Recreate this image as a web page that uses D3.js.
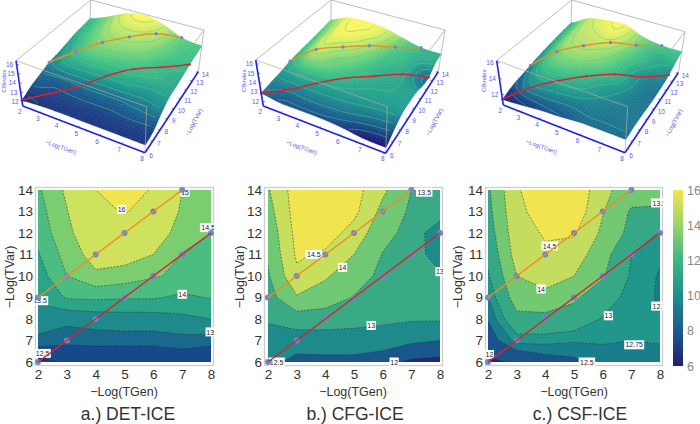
<!DOCTYPE html>
<html><head><meta charset="utf-8">
<script src="https://cdn.jsdelivr.net/npm/d3@7"></script>
<style>html,body{margin:0;padding:0;background:#fff}svg{display:block}text{font-family:"Liberation Sans",Arial,sans-serif}</style>
</head><body><svg id="c" width="700" height="424"></svg>
<script>
const tGen=[2,3,4,5,6,7,8];
const tVar=[6,7,8,9,10,11,12,13,14];
// rows: TVar 6..14, columns: TGen 2..8
const zDet=[
[12.40,12.55,12.60,12.60,12.60,12.60,12.60],
[12.90,12.80,12.80,12.80,12.80,12.85,12.80],
[13.25,13.10,13.20,13.25,13.25,13.38,13.50],
[13.60,14.05,14.09,14.05,14.05,13.90,14.03],
[13.75,14.50,14.90,14.75,14.55,14.40,14.15],
[13.95,14.70,15.23,15.25,15.00,14.48,14.30],
[14.20,14.85,15.50,15.60,15.35,14.75,14.50],
[14.30,14.97,15.80,16.05,15.70,14.90,14.60],
[14.42,15.10,16.00,16.40,15.92,15.00,14.70]];
const zCfg=[
[12.65,12.35,12.35,12.35,12.22,11.90,11.85],
[12.85,12.75,12.80,12.80,12.75,12.60,12.50],
[13.04,13.25,13.20,13.15,13.10,13.05,13.05],
[13.30,13.95,13.80,13.47,13.25,13.20,13.15],
[13.45,14.40,14.05,13.75,13.37,13.25,13.10],
[13.55,14.57,14.42,14.00,13.48,13.30,12.70],
[13.65,14.65,14.75,14.30,13.65,13.35,12.60],
[13.80,14.72,14.85,14.63,13.85,13.42,13.30],
[13.95,14.75,14.90,14.70,14.10,13.50,13.40]];
const zCsf=[
[11.90,12.07,12.30,12.42,12.62,12.65,12.65],
[12.30,12.85,12.85,12.78,12.78,12.75,12.77],
[12.52,13.35,13.35,13.27,12.97,12.80,12.77],
[12.73,13.75,13.85,13.58,13.20,12.87,12.72],
[12.95,14.00,14.22,14.00,13.55,12.95,12.72],
[13.10,14.20,14.42,14.25,13.70,13.00,12.80],
[13.25,14.30,14.55,14.56,13.90,13.35,12.98],
[13.35,14.38,14.72,14.85,14.03,13.44,13.43],
[13.42,14.45,14.82,14.95,14.13,13.75,13.70]];
const levelsDet=[12.5,12.75,13,13.5,14,14.5,15,16];
const levelsCfg=[12,12.5,13,13.5,14,14.5];
const levelsCsf=[12,12.5,12.75,13,13.5,14,14.5];
const bandsDet=["#133a85","#17478c","#19698c","#1f8a8c","#2ca488","#4cbd80","#7ccd70","#cfe25d","#f0e44f"];
const bandsCfg=["#1c2a7e","#19568c","#1f8a8c","#3aa985","#6fc874","#c8df5e","#f0e44f"];
const bandsCsf=["#1c2a7e","#19528c","#1a7d8c","#21968a","#37a886","#72c972","#c5dd5e","#f0e44f"];
const labelsDet=[["12.5",2.16,6.4],["13.5",2.07,8.85],["16",4.9,13.1],["15",7.1,13.9],["14.5",7.9,12.25],["14",7,9.15],["13",7.97,7.4]];
const labelsCfg=[["12.5",2.3,6],["12",6.4,6],["13",5.6,7.7],["14",4.6,10.4],["14.5",3.6,11],["13.5",7.45,13.9],["13",8,10.2]];
const labelsCsf=[["12",2.05,6.35],["12.5",5.45,6],["12.75",7.1,6.8],["12.7",7.98,8.6],["13",6.2,8.15],["14",3.85,9.4],["14.5",4.15,11.4],["13.5",7.98,13.4]];
const redGen=[2,3,4,5,6,7,8];
const redVar=[6,7,8,9,10,11,12];
const orangeGen=[2,3,4,5,6,7];
const orangeVar=[9,10,11,12,13,14];
const zTicksDet=[12,13,14,15,16];
const zTicksCfg=[12,13,14,15,16];
const zTicksCsf=[12,14,16];
const legendTicks=[6,8,10,12,14,16];
const captions=["a.) DET-ICE","b.) CFG-ICE","c.) CSF-ICE"];

const panels=[
 {z:zDet,lv:levelsDet,bands:bandsDet,labels:labelsDet,cap:captions[0],zt:zTicksDet,ztw:[.1,.92],
  plot:[38,211],frame:[35,214],ylx:10,capx:128,xlx:124,
  base:[[22.7,106],[145,152.7],[198.3,71.7],[89.3,41.7]],top:[[16,60.7],[146.7,106.7],[204,30],[90.7,0]],
  zDom:[11.8,16.5],cDom:[12.3,16.3]},
 {z:zCfg,lv:levelsCfg,bands:bandsCfg,labels:labelsCfg,cap:captions[1],zt:zTicksCfg,ztw:[.1,.92],
  plot:[268,440],frame:[264,443],ylx:240,capx:355,xlx:353,
  base:[[263.3,106],[385.7,153.3],[438.3,71.7],[331,41.7]],top:[[255.7,60],[387.3,106.7],[445,30],[331,0]],
  zDom:[11.2,16.4],cDom:[11.9,14.85]},
 {z:zCsf,lv:levelsCsf,bands:bandsCsf,labels:labelsCsf,cap:captions[2],zt:zTicksCsf,ztw:[.24,.96],
  plot:[488,660],frame:[485,663],ylx:458,capx:580,xlx:574,
  base:[[503.3,105],[625,152.7],[678.3,72.7],[570.7,41.7]],top:[[496.7,60.7],[627.7,106.7],[685,31.7],[571.7,0]],
  zDom:[11.3,16],cDom:[11.9,14.95]}
];

const stops=[0,.2,.4,.6,.8,1];
const cmap=d3.scaleLinear().domain(stops).range(["#1e1f78","#1b5a8c","#1f8e8c","#3fb583","#9bd36a","#f2e64e"]);
const cmap3=d3.scaleLinear().domain(stops).range(["#1b1b78","#1a5e90","#1f9a90","#45c585","#a8e070","#fbf560"]);
const svg=d3.select("#c");
const defs=svg.append("defs");
const fy=d3.scaleLinear().domain([6,14]).range([362,190]);

function homog(q){
 const [[x0,y0],[x1,y1],[x2,y2],[x3,y3]]=q;
 const sx=x0-x1+x2-x3,sy=y0-y1+y2-y3,dx1=x1-x2,dx2=x3-x2,dy1=y1-y2,dy2=y3-y2,den=dx1*dy2-dx2*dy1;
 const g=(sx*dy2-dx2*sy)/den,h=(dx1*sy-sx*dy1)/den;
 const a=x1-x0+g*x1,b=x3-x0+h*x3,d=y1-y0+g*y1,e=y3-y0+h*y3;
 return (u,v)=>{const w=g*u+h*v+1;return [(a*u+b*v+x0)/w,(d*u+e*v+y0)/w];};
}
function cr(a,b,c,d,t){return .5*((2*b)+(c-a)*t+(2*a-5*b+4*c-d)*t*t+(3*b-a-3*c+d)*t*t*t);}
function sample(g,i,j){return g[Math.max(0,Math.min(8,j))][Math.max(0,Math.min(6,i))];}
function surf(g,x,y){
 const fx=Math.min(x-2,5.9999),fyy=Math.min(y-6,7.9999),i=Math.floor(fx),j=Math.floor(fyy),tx=fx-i,ty=fyy-j;
 const col=k=>cr(sample(g,i-1,k),sample(g,i,k),sample(g,i+1,k),sample(g,i+2,k),tx);
 return cr(col(j-1),col(j),col(j+1),col(j+2),ty);
}
const dFmt=d3.format("d");

panels.forEach((p,idx)=>{
 /* ---------- 3D ---------- */
 const gB=svg.append("g"),H0=homog(p.base),H1=homog(p.top);
 const uS=d3.scaleLinear().domain([2,8]).range([0,1]),vS=d3.scaleLinear().domain([6,14]).range([0,1]),wS=d3.scaleLinear().domain(p.zDom).range([0,1]);
 const proj=(x,y,w)=>{const a=H0(uS(x),vS(y)),b=H1(uS(x),vS(y));return [a[0]+(b[0]-a[0])*w,a[1]+(b[1]-a[1])*w];};
 const P=(x,y,z)=>proj(x,y,wS(z));
 const col3=d3.scaleLinear().domain(p.cDom).range([0,1]).clamp(true);
 const seg=(a,b,c,o)=>gB.append("line").attr("x1",a[0]).attr("y1",a[1]).attr("x2",b[0]).attr("y2",b[1]).attr("stroke",c||"#bdbdbd").attr("stroke-width",o||1);
 seg(proj(2,14,0),proj(2,14,1));seg(proj(8,14,0),proj(8,14,1));
 seg(proj(2,14,1),proj(8,14,1));seg(proj(2,14,1),proj(2,6,1));seg(proj(8,14,1),proj(8,6,1));
 const N=6,cells=[];
 for(let j=8*N-1;j>=0;j--)for(let i=0;i<6*N;i++){
  const x0=2+i/N,x1=2+(i+1)/N,y0=6+j/N,y1=6+(j+1)/N;
  const z00=surf(p.z,x0,y0),z10=surf(p.z,x1,y0),z11=surf(p.z,x1,y1),z01=surf(p.z,x0,y1);
  cells.push({q:[P(x0,y0,z00),P(x1,y0,z10),P(x1,y1,z11),P(x0,y1,z01)],z:(z00+z10+z11+z01)/4});
 }
 gB.append("g").selectAll("path").data(cells).join("path")
  .attr("d",d=>"M"+d.q.join("L")+"Z")
  .attr("fill",d=>cmap3(col3(d.z))).attr("stroke",d=>cmap3(col3(d.z))).attr("stroke-width",.5);
 const nx=6*N,ny=8*N,fine=[];
 for(let j=0;j<=ny;j++)for(let i=0;i<=nx;i++)fine.push(surf(p.z,2+i/N,6+j/N));
 const thr=d3.range(p.cDom[0]+.25,p.cDom[1],(p.cDom[1]-p.cDom[0])/11);
 const iso=d3.contours().size([nx+1,ny+1]).smooth(true).thresholds(thr)(fine);
 const lineGen=d3.line();
 iso.forEach(c=>c.coordinates.forEach(poly=>poly.forEach(ring=>{
  let cur=[];const flush=()=>{if(cur.length>1)gB.append("path").attr("d",lineGen(cur)).attr("fill","none").attr("stroke","#46d877").attr("stroke-opacity",.8).attr("stroke-width",.6);cur=[];};
  ring.forEach(pt=>{
   const on=pt[0]<=.5||pt[0]>=nx+.5||pt[1]<=.5||pt[1]>=ny+.5;
   if(on)flush();else cur.push(P(2+(pt[0]-.5)/N,6+(pt[1]-.5)/N,c.value));
  });flush();
 })));
 const curve=d3.line().curve(d3.curveCatmullRom);
 const red3=redGen.map((x,i)=>P(x,redVar[i],surf(p.z,x,redVar[i]))),or3=orangeGen.map((x,i)=>P(x,orangeVar[i],surf(p.z,x,orangeVar[i])));
 gB.append("path").attr("d",curve(or3)).attr("fill","none").attr("stroke","#f08c1e").attr("stroke-width",1.4);
 gB.append("path").attr("d",curve(red3)).attr("fill","none").attr("stroke","#e01f2d").attr("stroke-width",1.5);
 gB.append("g").selectAll("circle").data(or3).join("circle").attr("cx",d=>d[0]).attr("cy",d=>d[1]).attr("r",1.7).attr("fill","#7c84b4");
 gB.append("g").selectAll("circle").data(red3).join("circle").attr("cx",d=>d[0]).attr("cy",d=>d[1]).attr("r",1.2).attr("fill","#c0304a");
 seg(proj(2,6,1),proj(8,6,1),"rgba(170,170,170,.7)");seg(proj(8,6,0),proj(8,6,1),"rgba(170,170,170,.7)");
 const blue="#1f1fee",tc="#5a5aee";
 seg(proj(2,6,0),proj(8,6,0),blue,1.6);seg(proj(8,6,0),proj(8,14,0),blue,1.6);seg(proj(2,6,0),proj(2,6,1),blue,1.6);
 const lab=(pt,t,dx,dy,fs)=>gB.append("text").attr("x",pt[0]+dx).attr("y",pt[1]+dy).attr("font-size",fs||6.5).attr("fill",tc).attr("text-anchor","middle").text(t);
 const tick=(a,dx,dy)=>gB.append("line").attr("x1",a[0]).attr("y1",a[1]).attr("x2",a[0]+dx).attr("y2",a[1]+dy).attr("stroke","#555").attr("stroke-width",.7);
 tGen.forEach(x=>{const a=proj(x,6,0);tick(a,.4,-1.6);lab(a,x,-3,8);});
 tVar.forEach(y=>{const a=proj(8,y,0);tick(a,-2.5,.4);lab(a,y,y>9?7:6,5);});
 const zw=d3.scaleLinear().domain(d3.extent(p.zt)).range(p.ztw);
 p.zt.forEach(z=>{const a=proj(2,6,zw(z));tick(a,2.5,.4);lab(a,z,-7,2.5);});
 const m1=proj(4.8,6,0),m2=proj(8,10.2,0),m3=proj(2,6,.55);
 const rot=(pt,t,dx,dy,ang)=>gB.append("text").attr("transform",`translate(${pt[0]+dx},${pt[1]+dy}) rotate(${ang})`).attr("font-size",6).attr("fill",tc).attr("text-anchor","middle").text(t);
 rot(m1,"\u2212Log(TGen)",-15,23,20);rot(m2,"\u2212Log(TVar)",20,17,-62);rot(m3,"CBindex",-13.5,0,-90);

 /* ---------- 2D ---------- */
 const x=d3.scaleLinear().domain([2,8]).range(p.plot);
 const cid="clip"+idx,lid="lclip"+idx;
 defs.append("clipPath").attr("id",cid).append("rect").attr("x",p.plot[0]).attr("y",190).attr("width",p.plot[1]-p.plot[0]).attr("height",172);
 defs.append("clipPath").attr("id",lid).append("rect").attr("x",p.frame[0]).attr("y",187).attr("width",p.frame[1]-p.frame[0]).attr("height",179);
 const g=svg.append("g");
 const gf=g.append("g").attr("clip-path",`url(#${cid})`);
 gf.append("rect").attr("x",p.plot[0]).attr("y",190).attr("width",p.plot[1]-p.plot[0]).attr("height",172).attr("fill",p.bands[0]);
 const path=d3.geoPath(d3.geoTransform({point(a,b){this.stream.point(x(2+a-.5),fy(6+b-.5));}}));
 const cs=d3.contours().size([7,9]).smooth(true).thresholds(p.lv)(p.z.flat());
 gf.selectAll("path").data(cs).join("path").attr("d",path).attr("fill",(d,i)=>p.bands[i+1]).attr("stroke","#2b2b2b").attr("stroke-width",.6).attr("stroke-dasharray","2 1.4").attr("stroke-opacity",.85);
 g.append("rect").attr("x",p.frame[0]+.5).attr("y",187.5).attr("width",p.frame[1]-p.frame[0]-1).attr("height",178).attr("fill","none").attr("stroke","#cfcfcf").attr("stroke-width",1.4);
 const gl=g.append("g").attr("clip-path",`url(#${lid})`);
 p.labels.forEach(l=>{
  const t=String(l[0]),w=t.length*3.6+2;
  gl.append("rect").attr("x",x(l[1])-w/2).attr("y",fy(l[2])-4.5).attr("width",w).attr("height",9).attr("fill","#fff");
  gl.append("text").attr("x",x(l[1])).attr("y",fy(l[2])+2.6).attr("font-size",7).attr("fill","#222").attr("text-anchor","middle").text(t);
 });
 const ln=d3.line().x(d=>x(d[0])).y(d=>fy(d[1]));
 const o=orangeGen.map((v,i)=>[v,orangeVar[i]]),r=redGen.map((v,i)=>[v,redVar[i]]);
 const mark=(arr,c)=>g.append("g").selectAll("circle").data(arr).join("circle").attr("cx",d=>x(d[0])).attr("cy",d=>fy(d[1])).attr("r",3).attr("fill",c);
 mark(o,"#6d86cc");mark(r,"#6d86cc");
 g.append("path").attr("d",ln(o)).attr("fill","none").attr("stroke","#f5881f").attr("stroke-width",1.4);
 g.append("path").attr("d",ln(r)).attr("fill","none").attr("stroke","#e0202c").attr("stroke-width",1.5);
 const ax=g.append("g").attr("transform","translate(0,366)").call(d3.axisBottom(x).tickValues(tGen).tickFormat(dFmt).tickSize(0).tickPadding(1));
 ax.select(".domain").remove();ax.selectAll("text").attr("font-size",13.5).attr("fill","#333").attr("dy","0.9em").attr("font-family",'"Liberation Sans",Arial,sans-serif');
 const ay=g.append("g").attr("transform",`translate(${p.frame[0]},0)`).call(d3.axisLeft(fy).tickValues(tVar).tickFormat(dFmt).tickSize(0).tickPadding(2));
 ay.select(".domain").remove();ay.selectAll("text").attr("font-size",13.5).attr("fill","#333").attr("font-family",'"Liberation Sans",Arial,sans-serif');
 g.append("text").attr("x",p.xlx).attr("y",396).attr("font-size",12.5).attr("fill","#333").attr("text-anchor","middle").text("\u2212Log(TGen)");
 g.append("text").attr("transform",`translate(${p.ylx},277) rotate(-90)`).attr("font-size",12.5).attr("fill","#333").attr("text-anchor","middle").attr("dy","0.35em").text("\u2212Log(TVar)");
 g.append("text").attr("x",p.capx).attr("y",420).attr("font-size",17.5).attr("fill","#333").attr("text-anchor","middle").text(p.cap);
});

const lg=defs.append("linearGradient").attr("id","lg").attr("x1",0).attr("x2",0).attr("y1",1).attr("y2",0);
stops.forEach(t=>lg.append("stop").attr("offset",t).attr("stop-color",cmap(t)));
const ly=d3.scaleLinear().domain([6,16]).range([366,190]);
svg.append("rect").attr("x",673).attr("y",190).attr("width",10).attr("height",176).attr("fill","url(#lg)");
const la=svg.append("g").attr("transform","translate(683,0)").call(d3.axisRight(ly).tickValues(legendTicks).tickFormat(dFmt).tickSize(0).tickPadding(4));
la.select(".domain").remove();la.selectAll("text").attr("font-size",12.5).attr("fill","#888").attr("font-family",'"Liberation Sans",Arial,sans-serif');
</script></body></html>
